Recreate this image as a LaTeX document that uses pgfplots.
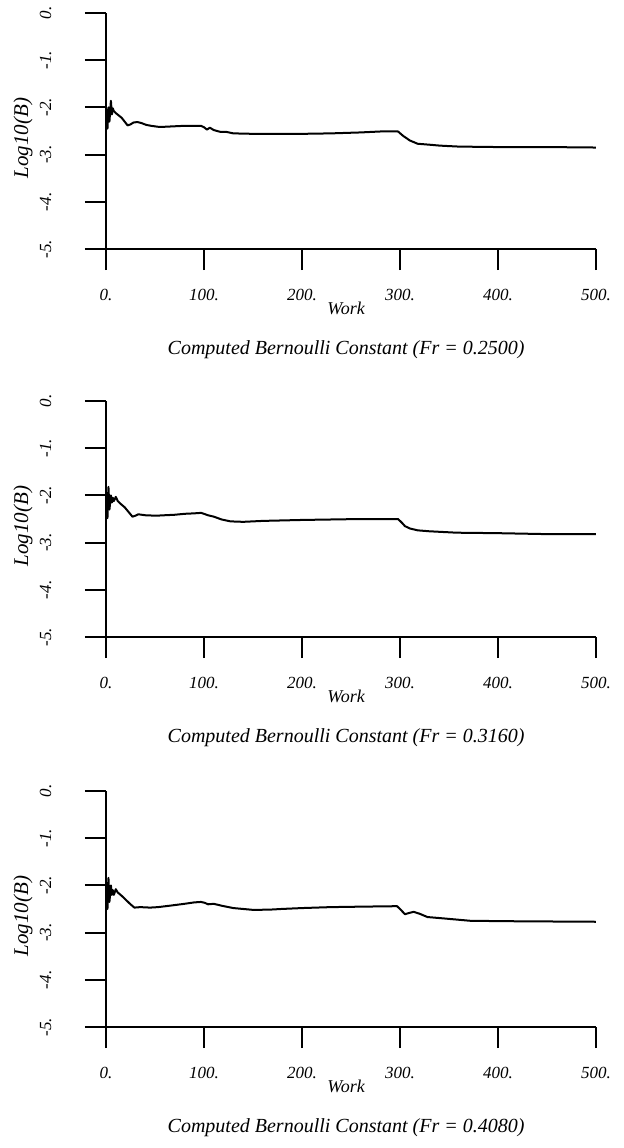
\documentclass[border=0pt]{standalone}
\usepackage{fontspec}
\setmainfont{Liberation Serif}
\usepackage{pgfplots}
\pgfplotsset{compat=1.18}

\pgfplotsset{
  curve/.style={black, line width=1pt, line join=round, mark=none},
  bern/.style={
    scale only axis, width=245pt, height=118pt,
    xmin=0, xmax=500, ymin=-5, ymax=0,
    enlargelimits=false,
    axis lines*=left,
    axis line style={line width=1pt},
    tick align=outside,
    major tick length=10.5pt,
    every tick/.style={black, line width=1pt},
    xtick={0,100,...,500},
    xticklabels={0.,100.,200.,300.,400.,500.},
    ytick={-5,-4,...,0},
    yticklabels={-5.,-4.,-3.,-2.,-1.,0.},
    ticklabel style={font=\fontsize{8.5}{10}\selectfont\itshape},
    xticklabel style={anchor=base, yshift=-15pt},
    yticklabel style={xshift=-17pt, rotate=90, anchor=base},
    xlabel={Work},
    xlabel style={font=\fontsize{9}{10}\selectfont\itshape,
      at={(axis description cs:0.49,0)}, anchor=base, yshift=-32.5pt},
    ylabel={Log10(B)},
    ylabel style={font=\fontsize{10.5}{12}\selectfont\itshape,
      at={(axis description cs:-0.159,0.47)}, anchor=base},
    title style={font=\fontsize{10}{12}\selectfont\itshape,
      at={(axis description cs:0.49,0)}, anchor=base, yshift=-58.5pt},
  }
}

\begin{document}
\begin{tikzpicture}
\useasboundingbox (-53pt,-449.5pt) rectangle (259pt,124.5pt);

% Fr = 0.2500
\begin{axis}[bern, at={(0,0)}, title={Computed Bernoulli Constant (Fr = 0.2500)}]
\addplot[curve] coordinates {
(0,-2.42) (1,-2.05) (1.5,-2.45) (2.5,-2.0) (3.5,-2.3) (5,-1.86) (6,-2.15)
(7,-2.02) (8,-2.08) (10,-2.12) (13,-2.17) (16,-2.22) (19,-2.3) (22,-2.38)
(25,-2.36) (28,-2.32) (32,-2.31) (36,-2.33) (41,-2.37) (46,-2.39) (53,-2.41)
(60,-2.41) (70,-2.40) (80,-2.39) (90,-2.39) (97,-2.39) (100,-2.42) (103,-2.47)
(106,-2.43) (110,-2.48) (117,-2.52) (123,-2.52) (130,-2.55) (150,-2.56)
(180,-2.56) (200,-2.56) (230,-2.55) (260,-2.53) (280,-2.51) (298,-2.51)
(303,-2.6) (310,-2.7) (318,-2.77) (330,-2.79) (341,-2.81) (360,-2.83)
(400,-2.84) (450,-2.84) (500,-2.85)
};
\end{axis}

% Fr = 0.3160
\begin{axis}[bern, at={(0,-194pt)}, title={Computed Bernoulli Constant (Fr = 0.3160)}]
\addplot[curve] coordinates {
(0,-2.46) (1,-1.95) (1.5,-2.48) (2.5,-1.82) (3.5,-2.3) (5,-2.0) (6,-2.15)
(7,-2.05) (8,-2.12) (10,-2.03) (12,-2.12) (15,-2.18) (19,-2.25) (23,-2.35)
(27,-2.45) (30,-2.43) (33,-2.40) (40,-2.42) (51,-2.43) (60,-2.42) (70,-2.41)
(80,-2.39) (90,-2.38) (97,-2.37) (100,-2.39) (104,-2.42) (110,-2.45)
(118,-2.51) (127,-2.55) (140,-2.56) (160,-2.54) (180,-2.53) (200,-2.52)
(230,-2.51) (260,-2.50) (298,-2.50) (302,-2.58) (305,-2.65) (310,-2.7)
(318,-2.74) (330,-2.76) (358,-2.79) (400,-2.80) (450,-2.82) (500,-2.82)
};
\end{axis}

% Fr = 0.4080
\begin{axis}[bern, at={(0,-389pt)}, title={Computed Bernoulli Constant (Fr = 0.4080)}]
\addplot[curve] coordinates {
(0,-2.5) (1,-1.95) (1.5,-2.5) (2.5,-1.84) (3.5,-2.35) (5,-2.0) (6,-2.2)
(7,-2.1) (8,-2.2) (10,-2.08) (12,-2.15) (16,-2.22) (20,-2.3) (25,-2.4)
(29,-2.47) (35,-2.46) (45,-2.47) (53,-2.46) (65,-2.43) (80,-2.39) (90,-2.36)
(97,-2.35) (101,-2.37) (104,-2.40) (110,-2.39) (118,-2.43) (130,-2.48)
(151,-2.52) (170,-2.51) (178,-2.5) (200,-2.48) (229,-2.46) (260,-2.45)
(297,-2.44) (301,-2.52) (305,-2.61) (310,-2.58) (314,-2.56) (320,-2.6)
(328,-2.67) (345,-2.70) (372,-2.75) (420,-2.76) (500,-2.77)
};
\end{axis}
\end{tikzpicture}
\end{document}
